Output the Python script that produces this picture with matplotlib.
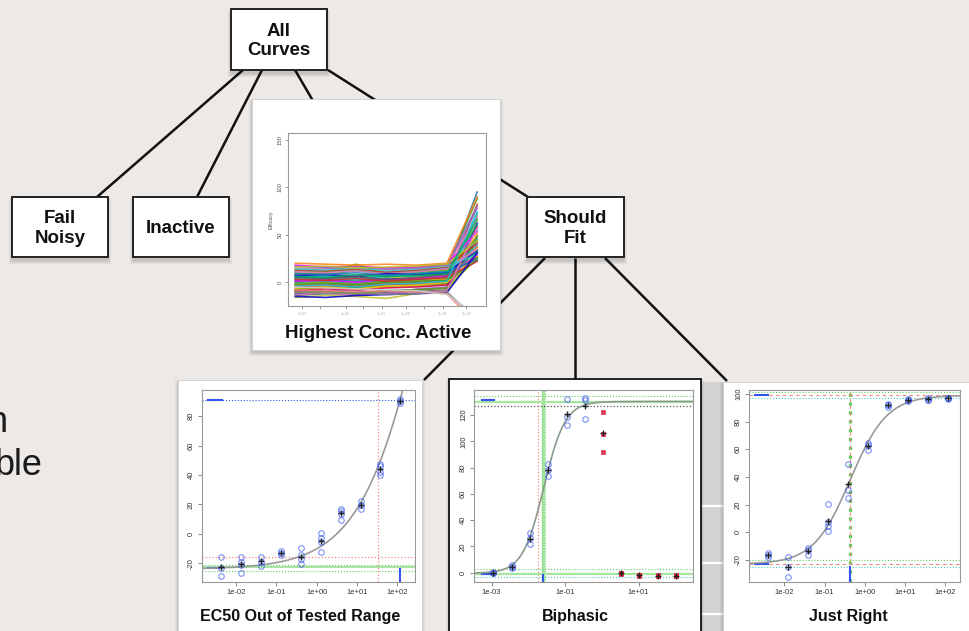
import numpy as np
import matplotlib
matplotlib.use('Agg')
import matplotlib.pyplot as plt
from matplotlib.patches import Rectangle

plt.rcParams['font.family'] = ['Liberation Sans', 'DejaVu Sans']

W, H = 970, 631

# ---- data ----
# Highest Conc. Active: efficacy of every curve at the 7 tested doses
hca_curves = [
    [5, 6, 4, 7, 8, 10, 95], [12, 11, 13, 10, 12, 15, 88], [-3, -2, -4, -1, 0, 2, 82],
    [8, 9, 7, 10, 11, 14, 78], [0, 2, 1, 3, 2, 5, 74], [-8, -6, -7, -5, -4, -2, 70],
    [15, 14, 16, 13, 15, 18, 68], [3, 4, 2, 5, 6, 8, 65], [-12, -10, -11, -9, -8, -6, 62],
    [10, 8, 12, 9, 10, 12, 60], [-5, -4, -6, -3, -2, 0, 58], [6, 7, 5, 8, 9, 11, 55],
    [18, 16, 17, 15, 16, 19, 53], [-1, 0, -2, 1, 2, 4, 51], [-14, -12, -13, -11, -10, -8, 49],
    [9, 10, 19, 9, 11, 13, 47], [2, 3, 1, 4, 3, 6, 45], [-7, -5, -6, -4, -3, -1, 43],
    [13, 12, 14, 11, 13, 16, 41], [-10, -9, -8, -12, -7, -5, 40], [4, 5, 3, 6, 7, 9, 38],
    [-3, -1, -2, 0, 1, 3, 37], [11, 10, 12, 9, 11, 14, 35], [-16, -14, -15, -17, -12, -10, 34],
    [7, 8, 6, 9, 8, 10, 33], [0, 1, -1, 2, 3, 5, 32], [-9, -7, -8, -6, -5, -3, 30],
    [14, 13, 15, 12, 14, 17, 29], [1, 2, 0, 3, 4, 7, 28], [-6, -5, -7, -4, -3, 0, 27],
    [5, 4, 6, 3, 5, 8, 26], [-11, -10, -12, -9, -8, -6, 25], [9, 8, 10, 7, 9, 11, 24],
    [-2, -1, -3, 0, 1, 2, 23], [3, 2, 4, 1, 3, 5, 22], [17, 15, 16, 14, 15, 18, 80],
    [-4, -3, -5, -2, -1, 1, 72], [20, 19, 18, 19, 18, 20, 90],
    [-13, -11, -14, -12, -11, -9, 57], [16, 17, 15, 16, 17, 19, 44],
    [-15, -16, -14, -13, -12, -11, 31], [6, 5, 8, 6, 7, 9, 66],
    [-10, -12, -11, -13, -12, -10, -40], [-8, -9, -10, -9, -10, -12, -45],
    [-5, -6, -7, -8, -9, -13, -35],
]
hca_colors = ['#1f77b4', '#2ca02c', '#d62728', '#9467bd', '#17becf', '#ff7f0e',
              '#e377c2', '#bcbd22', '#0000cc', '#00aa66', '#cc0055', '#33cccc',
              '#ff00ff', '#ffcc00', '#555555', '#66aa00']
hca_down_colors = ['#888888', '#f08070', '#cccccc']

# EC50 Out of Tested Range
ec_conc = [4.2e-3, 1.33e-2, 4.2e-2, 0.131, 0.41, 1.29, 4.0, 12.6, 37.4, 117.0]
ec_resp = [[-15.4, -23.3, -28.3], [-15.4, -18.8, -21.1, -26.8], [-15.4, -18.8, -21.8],
           [-11.6, -13.2, -14.7], [-9.3, -14.7, -17.0, -20.6], [0.5, -2.5, -5.2, -12.0],
           [17.0, 15.6, 13.4, 9.5], [22.0, 19.7, 17.0], [47.4, 46.3, 42.0, 40.1],
           [91.8, 90.5, 88.9]]
ec_fit = dict(bottom=-24, top=427, ec50=1000.0, slope=0.5)

# Biphasic
bi_conc = [1.07e-3, 3.5e-3, 1.12e-2, 3.5e-2, 0.111, 0.351, 1.06, 3.3, 10.4, 32.7, 101.0]
bi_resp = [[-0.5, 0.0, 0.3], [5.6, 4.3, 3.5], [29.8, 26.0, 22.1], [82.7, 78.1, 73.5],
           [132.3, 118.8, 112.4], [133.3, 131.5, 117.0], [122.1, 105.3, 92.1],
           [-0.5, -1.3, -0.2], [-2.0, -2.6, -1.6], [-2.3, -2.9, -1.8], [-2.3, -2.8, -2.0]]
bi_excluded = [0, 0, 0, 0, 0, 0, 1, 1, 1, 1, 1]
bi_fit = dict(bottom=-0.5, top=130.5, ec50=0.0263, slope=1.5)

# Just Right
jr_conc = [3.85e-3, 1.22e-2, 3.84e-2, 0.121, 0.381, 1.2, 3.8, 12.0, 38.0, 119.0]
jr_resp = [[-15.0, -16.2, -18.1], [-17.6, -25.3, -32.6], [-11.6, -12.8, -16.4],
           [20.6, 7.2, 4.8, 1.2], [49.5, 30.2, 24.9], [64.8, 62.8, 59.7],
           [93.0, 91.8, 90.6], [96.2, 95.4, 95.0], [97.0, 96.0, 95.5], [97.0, 96.5, 96.8]]
jr_fit = dict(bottom=-23, top=99, ec50=0.437, slope=0.95)

BLUE = '#3355ee'
GREEN = '#66cc66'
LGREEN = '#a8e6a0'
RED = '#f08a80'


def hill(x, bottom, top, ec50, slope):
    return bottom + (top - bottom) / (1 + (ec50 / x) ** slope)


def px_axes(l, t, r, b):
    return fig.add_axes([l / W, 1 - b / H, (r - l) / W, (b - t) / H])


def shadow(x0, y0, x1, y1, dy=3, layers=4):
    for k in range(layers):
        bg.add_patch(Rectangle((x0 - k, y0 + dy - k), (x1 - x0) + 2 * k, (y1 - y0) + 2 * k,
                               fc='black', alpha=0.045, lw=0, zorder=2))


def style(ax, xt, xtl, yt):
    ax.set_xscale('log')
    ax.set_xticks(xt)
    ax.set_xticklabels(xtl)
    ax.minorticks_off()
    ax.set_yticks(yt)
    ax.set_yticklabels([str(v) for v in yt])
    ax.tick_params(labelsize=5.5, length=3, width=0.6, color='#777', labelcolor='#333', pad=2)
    ax.tick_params(axis='y', labelrotation=90)
    for lab in ax.get_yticklabels():
        lab.set_va('center')
    for s in ax.spines.values():
        s.set_color('#999')
        s.set_linewidth(0.8)


def points(ax, conc, resp, excluded=None):
    for i, (c, reps) in enumerate(zip(conc, resp)):
        if excluded is not None and excluded[i]:
            ax.plot([c] * len(reps), reps, 's', mfc='#f4a0b8', mec='#e8607a', ms=3.4, mew=0.6)
            ax.plot([c] * len(reps), reps, 'x', color='#d81830', ms=2.5, mew=0.8)
        else:
            ax.plot([c] * len(reps), reps, 'o', mfc='none', mec=BLUE, ms=4, mew=0.8, alpha=0.65)
        ax.plot(c, np.mean(reps), marker='+', color='#222', ms=4, mew=1.0)


fig = plt.figure(figsize=(9.7, 6.31), dpi=100)
fig.patch.set_facecolor('#ede9e6')
bg = fig.add_axes([0, 0, 1, 1])
bg.set_xlim(0, W)
bg.set_ylim(H, 0)
bg.axis('off')

# tree edges
edges = [((243, 70), (97, 197)), ((262, 70), (197, 197)), ((295, 70), (330, 130)),
         ((328, 70), (528, 197)), ((545, 258), (424, 380)), ((575, 258), (575, 380)),
         ((605, 258), (727, 381))]
for (x0, y0), (x1, y1) in edges:
    bg.plot([x0, x1], [y0, y1], color='#111', lw=1.8, zorder=1, solid_capstyle='butt')

# gap strip between Biphasic and Just Right
bg.add_patch(Rectangle((701, 382), 22, 260, fc='#d6d4d2', lw=0, zorder=2))
for yy in [506, 563, 614]:
    bg.plot([702, 723], [yy, yy], color='white', lw=1.6, zorder=2)

# panels
panels = [(252, 99, 500, 350), (178, 380, 422, 640), (449, 379, 701, 640), (723, 382, 975, 640)]
for i, (x0, y0, x1, y1) in enumerate(panels):
    shadow(x0, y0, x1, y1)
    ec = '#111' if i == 2 else '#d0d0d0'
    bg.add_patch(Rectangle((x0, y0), x1 - x0, y1 - y0, fc='white', ec=ec,
                           lw=1.3 if i == 2 else 0.6, zorder=3))

# node boxes
nodes = [('All\nCurves', 231, 9, 327, 70), ('Fail\nNoisy', 12, 197, 108, 257),
         ('Inactive', 133, 197, 229, 257), ('Should\nFit', 527, 197, 624, 257)]
for label, x0, y0, x1, y1 in nodes:
    shadow(x0, y0, x1, y1, dy=4, layers=4)
    bg.add_patch(Rectangle((x0, y0), x1 - x0, y1 - y0, fc='white', ec='#222', lw=1.4, zorder=4))
    bg.text((x0 + x1) / 2, (y0 + y1) / 2 + 1.5, label, ha='center', va='center',
            fontsize=13.5, fontweight='bold', linespacing=1.2, color='#111', zorder=5)

# panel titles
titles = [('Highest Conc. Active', 378, 333, 13.5), ('EC50 Out of Tested Range', 300, 617, 11.5),
          ('Biphasic', 575, 617, 11.5), ('Just Right', 848, 617, 11.5)]
for t, cx, cy, fs in titles:
    bg.text(cx, cy, t, ha='center', va='center', fontsize=fs, fontweight='bold', color='#111', zorder=5)

# slide text that the screenshot cuts off at its left edge
bg.text(8, 432, 'n', ha='right', va='baseline', fontsize=26, color='#1a1a1a', zorder=5)
bg.text(43, 475, 'ble', ha='right', va='baseline', fontsize=26, color='#1a1a1a', zorder=5)

# ---- Highest Conc. Active ----
ax = px_axes(288, 133, 486, 306)
doses = np.arange(7)
k_up = 0
for j, row in enumerate(hca_curves):
    if row[-1] < 0:
        col = hca_down_colors[j % 3]
    else:
        col = hca_colors[k_up % len(hca_colors)]
        k_up += 1
    ax.plot(doses, row, color=col, lw=1.15, alpha=0.85)
ax.set_xlim(-0.24, 6.29)
ax.set_ylim(-25, 157)
ax.set_yticks([0, 50, 100, 150])
ax.set_yticklabels(['0', '50', '100', '150'])
ax.set_xticks([0.22, 0.8, 1.66, 2.24, 2.85, 3.65, 4.24, 4.87, 5.64])
ax.set_xticklabels(['1e-03', '', '1e-02', '', '1e-01', '1e+00', '', '1e+01', '1e+02'])
ax.tick_params(axis='y', labelsize=4.2, length=2.5, width=0.5, color='#777', labelcolor='#555',
               pad=1.5, labelrotation=90)
ax.tick_params(axis='x', labelsize=2.5, length=2.5, width=0.5, color='#777', labelcolor='#aaa', pad=2)
for lab in ax.get_yticklabels():
    lab.set_va('center')
ax.set_ylabel('Efficacy', fontsize=3.8, color='#555', labelpad=3)
for s in ax.spines.values():
    s.set_color('#999')
    s.set_linewidth(0.8)

# ---- EC50 Out of Tested Range ----
ax = px_axes(202, 390, 415, 582)
ax.set_xlim(10 ** -2.844, 10 ** 2.44)
ax.set_ylim(-32.7, 97.7)
ax.axhline(91.2, color=BLUE, ls=':', lw=0.8)
ax.plot([2.04e-3, 4.4e-3], [91.2, 91.2], color=BLUE, lw=1.5)
ax.axhline(-22.5, color=LGREEN, lw=1.4)
ax.axhline(-21.0, color=GREEN, ls=':', lw=0.8)
ax.axhline(-25.0, color=GREEN, ls=':', lw=0.8)
ax.plot([2.04e-3, 4.4e-3], [-23, -23], color=BLUE, lw=1.5)
ax.axhline(-15.4, color=RED, ls=':', lw=0.9)
ax.axvline(32.8, color=RED, ls=':', lw=0.9)
ax.plot([117, 117], [-40, -24], color=BLUE, lw=1.5)
xs = np.logspace(-2.844, 2.44, 300)
ax.plot(xs, hill(xs, **ec_fit), color='#999', lw=1.2)
points(ax, ec_conc, ec_resp)
style(ax, [1e-2, 1e-1, 1, 10, 100], ['1e-02', '1e-01', '1e+00', '1e+01', '1e+02'],
      [-20, 0, 20, 40, 60, 80])

# ---- Biphasic ----
ax = px_axes(474, 390, 693, 582)
ax.set_xlim(10 ** -3.48, 10 ** 2.48)
ax.set_ylim(-7.2, 139.2)
ax.axvline(0.0257, color=LGREEN, lw=2.4)
ax.axvline(0.0235, color=GREEN, ls=':', lw=0.7)
ax.axvline(0.0282, color=GREEN, ls=':', lw=0.7)
ax.axvline(0.0187, color=RED, ls=':', lw=0.9)
ax.axhline(134.8, color=GREEN, ls=':', lw=0.8)
ax.axhline(130.2, color=LGREEN, lw=1.6)
ax.axhline(127.2, color='#555', ls=':', lw=0.9)
ax.plot([5.4e-4, 1.15e-3], [131.6, 131.6], color=BLUE, lw=1.5)
ax.axhline(3.0, color=GREEN, ls=':', lw=0.8)
ax.axhline(-0.8, color=LGREEN, lw=1.6)
ax.axhline(-3.3, color='#55cccc', ls=':', lw=0.8)
ax.plot([5.4e-4, 1.15e-3], [-0.8, -0.8], color=BLUE, lw=1.5)
ax.plot([0.0257, 0.0257], [-10, -2], color=BLUE, lw=1.5)
xs = np.logspace(-3.48, 2.48, 300)
ax.plot(xs, hill(xs, **bi_fit), color='#8a9a8a', lw=1.2)
points(ax, bi_conc, bi_resp, bi_excluded)
style(ax, [1e-3, 1e-1, 10], ['1e-03', '1e-01', '1e+01'], [0, 20, 40, 60, 80, 100, 120])

# ---- Just Right ----
ax = px_axes(749, 390, 960, 582)
ax.set_xlim(10 ** -2.88, 10 ** 2.37)
ax.set_ylim(-36, 102.9)
ax.axvline(0.435, color=GREEN, ls=':', lw=2.4)
ax.axvline(0.435, color=RED, ls=(0, (3, 3)), lw=0.8)
ax.axhline(101.4, color=GREEN, ls=':', lw=0.8)
ax.axhline(99.1, color=RED, ls=(0, (3, 3)), lw=0.8)
ax.axhline(97.2, color='#55cccc', ls=':', lw=0.8)
ax.plot([1.86e-3, 3.9e-3], [99.1, 99.1], color=BLUE, lw=1.5)
ax.axhline(-20.0, color=GREEN, ls=':', lw=0.8)
ax.axhline(-22.9, color=RED, ls=(0, (3, 3)), lw=0.8)
ax.axhline(-25.4, color='#55cccc', ls=':', lw=0.8)
ax.plot([1.86e-3, 3.9e-3], [-22.9, -22.9], color=BLUE, lw=1.5)
ax.plot([0.435, 0.435], [-40, -25], color=BLUE, lw=1.5)
xs = np.logspace(-2.88, 2.37, 300)
ax.plot(xs, hill(xs, **jr_fit), color='#999', lw=1.2)
points(ax, jr_conc, jr_resp)
style(ax, [1e-2, 1e-1, 1, 10, 100], ['1e-02', '1e-01', '1e+00', '1e+01', '1e+02'],
      [-20, 0, 20, 40, 60, 80, 100])

fig.savefig('out.png', dpi=100, facecolor=fig.get_facecolor())
